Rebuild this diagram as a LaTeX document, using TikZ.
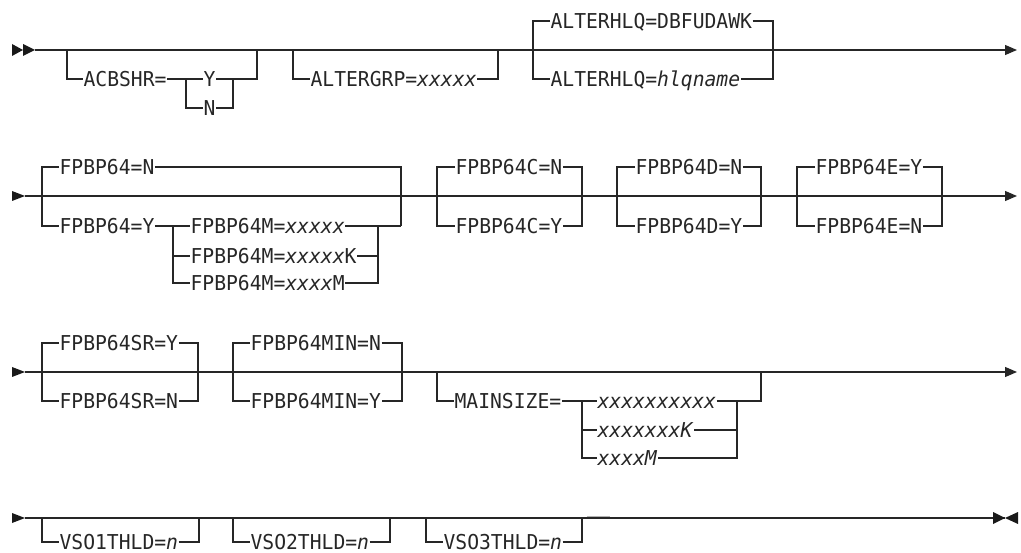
\documentclass[tikz,border=0pt]{standalone}
\usepackage{fontspec}
\newfontfamily\rrfont[FakeStretch=0.96]{DejaVu Sans Mono}
\usetikzlibrary{arrows.meta}
\tikzset{
  rail/.style={draw=black!85, line width=1.2pt},
  kw/.style={font={\rrfont\fontsize{20.5}{24}\selectfont}, text=black!85, inner sep=0pt, outer sep=0.6pt, text height=14.9pt, text depth=0pt, anchor=west},
  endarrow/.style={-{Triangle[length=12pt,width=10pt]}},
  tipfill/.style={fill=black!90}
}
\begin{document}
\begin{tikzpicture}[x=1pt,y=-1pt]
\useasboundingbox (0,0) rectangle (1021,553);

% ================= Row 1 =================
\fill[tipfill] (12,44) -- (23,50) -- (12,56) -- cycle;
\fill[tipfill] (23,44) -- (35,50) -- (23,56) -- cycle;
\coordinate (r1s) at (35,50);
\coordinate (r1e) at (1017,50);
\draw[rail,endarrow] (r1s) -- (r1e);

% ACBSHR
\coordinate (a1) at (67,50);  \coordinate (a2) at (67,79);
\node[kw] (acb) at (83,79) {ACBSHR=};
\coordinate (a3) at (186,79); \coordinate (a4) at (186,108);
\node[kw] (acbY) at (203,79) {Y};
\node[kw] (acbN) at (203,108) {N};
\coordinate (a5) at (233,79); \coordinate (a6) at (233,108);
\coordinate (a7) at (257,79); \coordinate (a8) at (257,50);
\draw[rail] (a1) -- (a2) -- (acb);
\draw[rail] (acb) -- (a3) -- (acbY);
\draw[rail] (a3) -- (a4) -- (acbN);
\draw[rail] (acbY) -- (a5) -- (a7) -- (a8);
\draw[rail] (acbN) -- (a6) -- (a5);

% ALTERGRP
\coordinate (g1) at (293,50); \coordinate (g2) at (293,79);
\node[kw] (agrp) at (310,79) {ALTERGRP=\textit{xxxxx}};
\coordinate (g3) at (498,79); \coordinate (g4) at (498,50);
\draw[rail] (g1) -- (g2) -- (agrp);
\draw[rail] (agrp) -- (g3) -- (g4);

% ALTERHLQ
\coordinate (h1) at (533,21); \coordinate (h2) at (533,79);
\node[kw] (hlq1) at (550,21) {ALTERHLQ=DBFUDAWK};
\node[kw] (hlq2) at (550,79) {ALTERHLQ=\textit{hlqname}};
\coordinate (h3) at (773,21); \coordinate (h4) at (773,79);
\draw[rail] (hlq1) -- (h1) -- (h2) -- (hlq2);
\draw[rail] (hlq1) -- (h3) -- (h4) -- (hlq2);

% ================= Row 2 =================
\fill[tipfill] (12,191) -- (25,196) -- (12,201) -- cycle;
\coordinate (r2s) at (25,196);
\coordinate (r2e) at (1017,196);
\draw[rail,endarrow] (r2s) -- (r2e);

% FPBP64
\coordinate (f1) at (42,167); \coordinate (f2) at (42,226);
\node[kw] (fpN) at (59,167) {FPBP64=N};
\node[kw] (fpY) at (59,226) {FPBP64=Y};
\coordinate (f3) at (401,167); \coordinate (f4) at (401,226);
\draw[rail] (fpN) -- (f1) -- (f2) -- (fpY);
\draw[rail] (fpN) -- (f3) -- (f4);
\coordinate (m1) at (173,226); \coordinate (m2) at (173,256); \coordinate (m3) at (173,283);
\node[kw] (fm1) at (190,226) {FPBP64M=\textit{xxxxx}};
\node[kw] (fm2) at (190,256) {FPBP64M=\textit{xxxxx}K};
\node[kw] (fm3) at (190,283) {FPBP64M=\textit{xxxx}M};
\coordinate (m4) at (378,226); \coordinate (m5) at (378,256); \coordinate (m6) at (378,283);
\draw[rail] (fpY) -- (m1) -- (fm1);
\draw[rail] (m1) -- (m3) -- (fm3);
\draw[rail] (m2) -- (fm2);
\draw[rail] (fm1) -- (m4) -- (f4);
\draw[rail] (fm2) -- (m5);
\draw[rail] (fm3) -- (m6) -- (m4);

% FPBP64C
\coordinate (c1) at (437,167); \coordinate (c2) at (437,226);
\node[kw] (cN) at (455,167) {FPBP64C=N};
\node[kw] (cY) at (455,226) {FPBP64C=Y};
\coordinate (c3) at (582,167); \coordinate (c4) at (582,226);
\draw[rail] (cN) -- (c1) -- (c2) -- (cY);
\draw[rail] (cN) -- (c3) -- (c4) -- (cY);

% FPBP64D
\coordinate (d1) at (617,167); \coordinate (d2) at (617,226);
\node[kw] (dN) at (635,167) {FPBP64D=N};
\node[kw] (dY) at (635,226) {FPBP64D=Y};
\coordinate (d3) at (761,167); \coordinate (d4) at (761,226);
\draw[rail] (dN) -- (d1) -- (d2) -- (dY);
\draw[rail] (dN) -- (d3) -- (d4) -- (dY);

% FPBP64E
\coordinate (e1) at (797,167); \coordinate (e2) at (797,226);
\node[kw] (eY) at (815,167) {FPBP64E=Y};
\node[kw] (eN) at (815,226) {FPBP64E=N};
\coordinate (e3) at (942,167); \coordinate (e4) at (942,226);
\draw[rail] (eY) -- (e1) -- (e2) -- (eN);
\draw[rail] (eY) -- (e3) -- (e4) -- (eN);

% ================= Row 3 =================
\fill[tipfill] (12,367) -- (25,372) -- (12,377) -- cycle;
\coordinate (r3s) at (25,372);
\coordinate (r3e) at (1017,372);
\draw[rail,endarrow] (r3s) -- (r3e);

% FPBP64SR
\coordinate (s1) at (42,343); \coordinate (s2) at (42,401);
\node[kw] (sY) at (59,343) {FPBP64SR=Y};
\node[kw] (sN) at (59,401) {FPBP64SR=N};
\coordinate (s3) at (198,343); \coordinate (s4) at (198,401);
\draw[rail] (sY) -- (s1) -- (s2) -- (sN);
\draw[rail] (sY) -- (s3) -- (s4) -- (sN);

% FPBP64MIN
\coordinate (n1) at (233,343); \coordinate (n2) at (233,401);
\node[kw] (nN) at (250,343) {FPBP64MIN=N};
\node[kw] (nY) at (250,401) {FPBP64MIN=Y};
\coordinate (n3) at (402,343); \coordinate (n4) at (402,401);
\draw[rail] (nN) -- (n1) -- (n2) -- (nY);
\draw[rail] (nN) -- (n3) -- (n4) -- (nY);

% MAINSIZE
\coordinate (z1) at (437,372); \coordinate (z2) at (437,401);
\node[kw] (ms) at (454,401) {MAINSIZE=};
\coordinate (z3) at (582,401); \coordinate (z4) at (582,430); \coordinate (z5) at (582,458);
\node[kw] (ms1) at (597,401) {\textit{xxxxxxxxxx}};
\node[kw] (ms2) at (597,430) {\textit{xxxxxxxK}};
\node[kw] (ms3) at (597,458) {\textit{xxxxM}};
\coordinate (z6) at (737,401); \coordinate (z7) at (737,430); \coordinate (z8) at (737,458);
\coordinate (z9) at (761,401); \coordinate (z10) at (761,372);
\draw[rail] (z1) -- (z2) -- (ms);
\draw[rail] (ms) -- (z3) -- (ms1);
\draw[rail] (z3) -- (z5) -- (ms3);
\draw[rail] (z4) -- (ms2);
\draw[rail] (ms1) -- (z6) -- (z9) -- (z10);
\draw[rail] (ms2) -- (z7);
\draw[rail] (ms3) -- (z8) -- (z6);

% ================= Row 4 =================
\fill[tipfill] (12,513) -- (25,518) -- (12,523) -- cycle;
\coordinate (r4s) at (25,518);
\coordinate (r4e) at (1005,518);
\draw[rail] (r4s) -- (r4e);
\fill[tipfill] (993,512) -- (1005,518) -- (993,524) -- cycle;
\fill[tipfill] (1018,512) -- (1005,518) -- (1018,524) -- cycle;
\draw[gray!60, line width=1.4pt] (587,516.5) -- (610,516.5);

% VSO1THLD
\coordinate (v1) at (42,518); \coordinate (v2) at (42,542);
\node[kw] (vs1) at (59,542) {VSO1THLD=\textit{n}};
\coordinate (v3) at (199,542); \coordinate (v4) at (199,518);
\draw[rail] (v1) -- (v2) -- (vs1);
\draw[rail] (vs1) -- (v3) -- (v4);

% VSO2THLD
\coordinate (w1) at (233,518); \coordinate (w2) at (233,542);
\node[kw] (vs2) at (250,542) {VSO2THLD=\textit{n}};
\coordinate (w3) at (390,542); \coordinate (w4) at (390,518);
\draw[rail] (w1) -- (w2) -- (vs2);
\draw[rail] (vs2) -- (w3) -- (w4);

% VSO3THLD
\coordinate (u1) at (426,518); \coordinate (u2) at (426,542);
\node[kw] (vs3) at (443,542) {VSO3THLD=\textit{n}};
\coordinate (u3) at (582,542); \coordinate (u4) at (582,518);
\draw[rail] (u1) -- (u2) -- (vs3);
\draw[rail] (vs3) -- (u3) -- (u4);
\end{tikzpicture}
\end{document}
